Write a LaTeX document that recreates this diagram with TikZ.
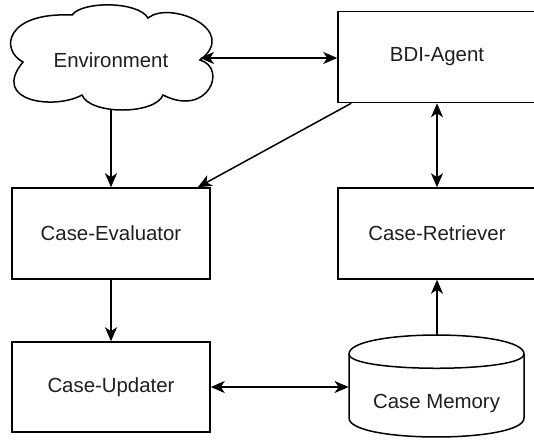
\documentclass[tikz,border=0pt]{standalone}
\usepackage{fontspec}
\setmainfont{Liberation Sans}
\usetikzlibrary{arrows.meta,calc}

\tikzset{
  px/.style={x=0.5pt,y=-0.5pt},
  stroke/.style={line width=0.75pt,draw=black},
  box/.style={stroke,rectangle,minimum width=99pt,minimum height=45.5pt,inner sep=0pt,
    font=\fontsize{10.2pt}{12pt}\selectfont,text=black!88},
  lbl/.style={inner sep=0pt,font=\fontsize{10.2pt}{12pt}\selectfont,text=black!88},
  tip/.style={-{Stealth[length=7pt,width=6pt,inset=2pt]}},
  tips/.style={{Stealth[length=7pt,width=6pt,inset=2pt]}-{Stealth[length=7pt,width=6pt,inset=2pt]}},
  conn/.style={line width=0.75pt}
}

\begin{document}
\begin{tikzpicture}[px]
\useasboundingbox (0,0) rectangle (534,440);
\clip (0,0) rectangle (534,440);
\fill[white] (0,0) rectangle (534,440);

% cloud outline for the environment
\draw[stroke,fill=white]
  (23,62) .. controls (0,50) and (5,12) .. (72,15)
  .. controls (82,1) and (138,1) .. (148,18)
  .. controls (170,0) and (240,30) .. (200,60)
  .. controls (228,68) and (208,118) .. (163,95)
  .. controls (155,115) and (90,115) .. (82,95)
  .. controls (55,110) and (-10,102) .. (23,62) -- cycle;
\node[lbl] (env) at (111,60) {Environment};
\coordinate (envR) at (200,58);
\coordinate (envB) at (111,110);

% rectangular components
\node[box] (bdi)  at (437,57)    {BDI-Agent};
\node[box] (eval) at (111,233.5) {Case-Evaluator};
\node[box] (ret)  at (437,233.5) {Case-Retriever};
\node[box,minimum height=45pt] (upd) at (111,387) {Case-Updater};

% case memory cylinder
\node[minimum width=87.5pt,minimum height=51pt,inner sep=0pt] (mem) at (436.5,386) {};
\draw[stroke,fill=white]
  (349,354) .. controls (349,328.7) and (524,328.7) .. (524,354)
  -- (524,418) .. controls (524,443.3) and (349,443.3) .. (349,418) -- cycle;
\draw[stroke] (349,354) .. controls (349,373) and (524,373) .. (524,354);
\node[lbl] (memtext) at (436.5,403) {Case Memory};

% connectors
\draw[conn,tips] (envR) -- (envR -| bdi.west);
\draw[conn,tip] (envB) -- (envB |- eval.north);
\draw[conn,tip] ($(bdi.south west)+(14,0)$) -- ($(eval.north east)+(-13,0)$);
\draw[conn,tips] (bdi.south) -- (ret.north);
\draw[conn,tip] (eval.south) -- (upd.north);
\draw[conn,tip] (ret.south |- mem.north) -- (ret.south);
\draw[conn,tips] (upd.east) -- (upd.east -| mem.west);
\end{tikzpicture}
\end{document}
